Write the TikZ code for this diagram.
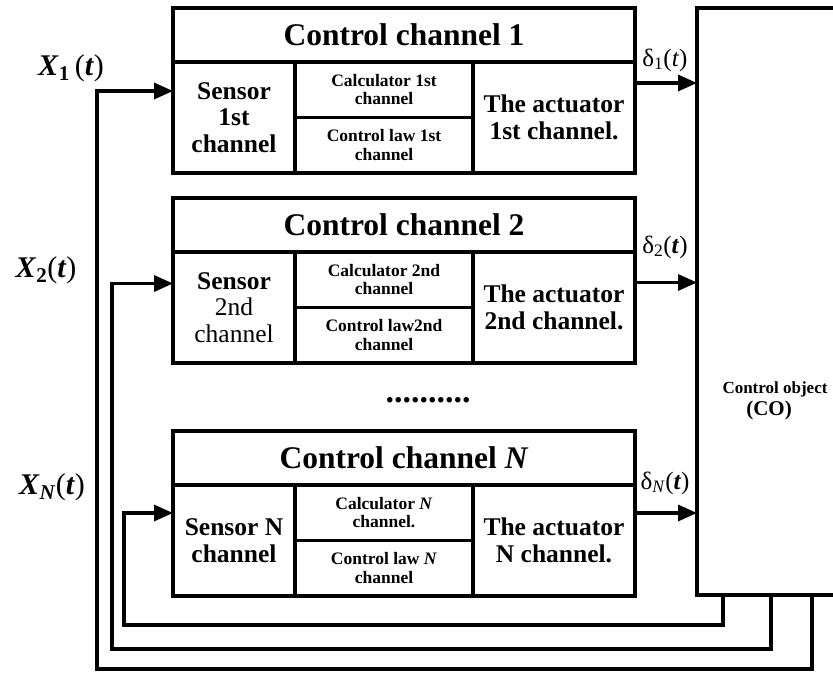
\documentclass[tikz,border=0pt]{standalone}
\usepackage{fontspec}
\setmainfont{Liberation Serif}
\usetikzlibrary{arrows.meta,calc}
\tikzset{
  blk/.style={draw, line width=3.3pt, inner sep=0pt, outer sep=0pt, anchor=north west, align=center},
  ttl/.style={blk, font=\fontsize{31.5}{34}\selectfont\bfseries},
  big/.style={blk, font=\fontsize{25.5}{26.5}\selectfont},
  small/.style={blk, font=\fontsize{17.5}{18.5}\selectfont\bfseries},
  arr/.style={line width=3.3pt, -{Triangle[length=19pt,width=16pt]}},
  lbl/.style={inner sep=0pt, font=\fontsize{30}{32}\selectfont},
  dlbl/.style={inner sep=0pt, font=\fontsize{25}{27}\selectfont},
}
\newcommand\chanbox[7]{%
  \node[ttl, minimum width=462pt, minimum height=54pt] (t#1) at (173,#2) {#3};
  \node[big, minimum width=122pt, minimum height=111pt] (s#1) at (173,#2+54) {#4};
  \node[small, minimum width=178pt, minimum height=55.5pt] (c#1) at (295,#2+54) {#5};
  \node[small, minimum width=178pt, minimum height=55.5pt] (l#1) at (295,#2+109.5) {#6};
  \node[big, minimum width=162pt, minimum height=111pt] (a#1) at (473,#2+54) {#7};
}
\begin{document}
\begin{tikzpicture}[x=1pt,y=-1pt]
\useasboundingbox (0,0) rectangle (833,673);
\clip (0,0) rectangle (833,673);
\chanbox{1}{8}{Control channel 1}{\bfseries Sensor\\\bfseries 1st\\\bfseries channel}{Calculator 1st\\channel}{Control law 1st\\channel}{\bfseries The actuator\\\bfseries 1st channel.}
\chanbox{2}{198}{Control channel 2}{\bfseries Sensor\\2nd\\channel}{Calculator 2nd\\channel}{Control law2nd\\channel}{\bfseries The actuator\\\bfseries 2nd channel.}
\chanbox{N}{431}{Control channel \textit{N}}{\bfseries Sensor N\\\bfseries channel}{Calculator \textit{N}\\channel.}{Control law \textit{N}\\channel}{\bfseries The actuator\\\bfseries N channel.}
\node[blk, minimum width=150pt, minimum height=587pt] (co) at (697,8) {};
\node[inner sep=0pt, font=\fontsize{17}{18}\selectfont\bfseries] (colbl) at (775,389) {Control object};
\node[inner sep=0pt, font=\fontsize{21}{22}\selectfont\bfseries] (cocode) at (769,410) {(CO)};
\node[anchor=base, inner sep=0pt, font=\fontsize{34}{34}\selectfont\bfseries] (dots) at (428,402) {..........};
% labels
\node[lbl] (x1) at (71,68) {\textbf{\textit{X}}\textsubscript{\textbf{1}}\,(\textbf{\textit{t}})};
\node[lbl] (x2) at (46,270) {\textbf{\textit{X}}\textsubscript{\textbf{2}}(\textbf{\textit{t}})};
\node[lbl] (xn) at (52,487) {\textbf{\textit{X}}\textsubscript{\textbf{\textit{N}}}(\textbf{\textit{t}})};
\node[dlbl] (d1) at (665,60) {δ\textsubscript{1}(\textit{t})};
\node[dlbl] (d2) at (665,247) {δ\textsubscript{2}(\textbf{\textit{t}})};
\node[dlbl] (dn) at (665,483) {δ\textsubscript{\textit{N}}(\textbf{\textit{t}})};
% outputs
\draw[arr] ([yshift=34.5pt]a1.east) coordinate (o1) -- (o1 -| co.west);
\draw[arr] ([yshift=25pt]a2.east) coordinate (o2) -- (o2 -| co.west);
\draw[arr] ([yshift=27.5pt]aN.east) coordinate (oN) -- (oN -| co.west);
% feedback
\coordinate (f1) at (97,669);
\coordinate (f2) at (112,649);
\coordinate (fN) at (124,625);
\draw[arr] ([xshift=115pt]co.south west) |- (f1) |- ([yshift=26.5pt]s1.west);
\draw[arr] ([xshift=74pt]co.south west) |- (f2) |- ([yshift=24pt]s2.west);
\draw[arr] ([xshift=26pt]co.south west) |- (fN) |- ([yshift=27.5pt]sN.west);
\end{tikzpicture}
\end{document}
